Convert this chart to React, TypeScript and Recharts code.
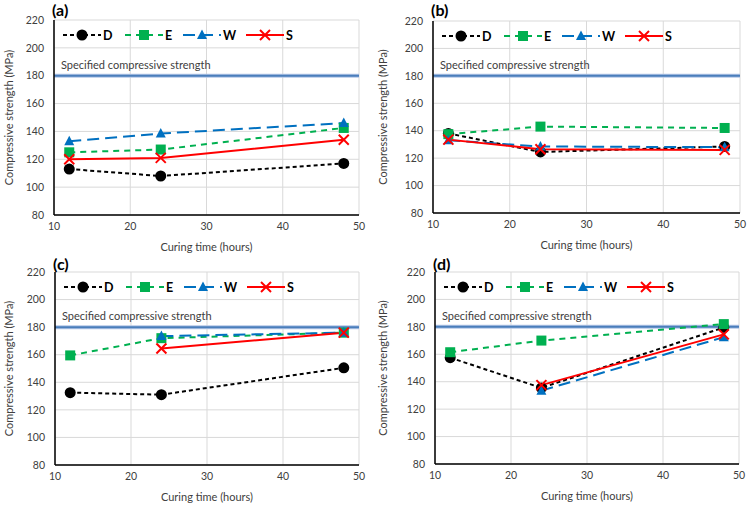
import { LineChart, Line, XAxis, YAxis, CartesianGrid, ReferenceLine, Legend } from "recharts"

// Curing times where specimens were tested
const curingHours = [12, 24, 48]
const xTicks = [10, 20, 30, 40, 50]
const yTicks = [80, 100, 120, 140, 160, 180, 200, 220]
const specifiedStrength = 180
const seriesNames = ["D", "E", "W", "S"]

// (a)
const dA = [113, 108, 117]
const eA = [125, 127, 142.5]
const wA = [133, 138.5, 146]
const sA = [120, 121, 134]
// (b)
const dB = [138, 124.5, 128.5]
const eB = [137.5, 143, 142]
const wB = [133, 128.5, 128]
const sB = [133.5, 126.5, 126]
// (c)
const dC = [132.5, 131, 150.5]
const eC = [159.5, 172, 176]
const wC = [null, 173.5, 176]
const sC = [null, 164.5, 176]
// (d)
const dD = [157.5, 135.5, 179.5]
const eD = [161.5, 170, 182]
const wD = [null, 133.5, 172.5]
const sD = [null, 137.5, 174.5]

const FONT = "Lato, sans-serif"

const STYLES: Record<string, { color: string; dash?: string }> = {
  D: { color: "#000000", dash: "4 3" },
  E: { color: "#00b050", dash: "6 5" },
  W: { color: "#0070c0", dash: "12 6" },
  S: { color: "#ff0000" },
}

function Marker({ name, cx, cy }: { name: string; cx: number; cy: number }) {
  const c = STYLES[name].color
  if (name === "D") return <circle cx={cx} cy={cy} r={5.5} fill={c} />
  if (name === "E") return <rect x={cx - 5} y={cy - 5} width={10} height={10} fill={c} />
  if (name === "W")
    return <polygon points={`${cx},${cy - 5.5} ${cx + 5},${cy + 4} ${cx - 5},${cy + 4}`} fill={c} />
  return (
    <g stroke={c} strokeWidth={2}>
      <line x1={cx - 5} y1={cy - 5} x2={cx + 5} y2={cy + 5} />
      <line x1={cx - 5} y1={cy + 5} x2={cx + 5} y2={cy - 5} />
    </g>
  )
}

const legendOffsets = [0, 62, 120, 183]

function LegendContent() {
  return (
    <svg width={250} height={16} style={{ display: "block" }}>
      {seriesNames.map((name, i) => {
        const x = legendOffsets[i]
        const s = STYLES[name]
        return (
          <g key={name}>
            <line x1={x} y1={8} x2={x + 38} y2={8} stroke={s.color} strokeWidth={2} strokeDasharray={s.dash} />
            <Marker name={name} cx={x + 19} cy={8} />
            <text x={x + 40} y={12.5} fontSize={12.5} fontWeight="bold" fontFamily={FONT} fill="#000">
              {name}
            </text>
          </g>
        )
      })}
    </svg>
  )
}

function buildRows(d: (number | null)[], e: (number | null)[], w: (number | null)[], s: (number | null)[]) {
  return curingHours.map((t, i) => ({ t, D: d[i], E: e[i], W: w[i], S: s[i] }))
}

interface PanelProps {
  tag: string
  rows: ReturnType<typeof buildRows>
  left: number
  top: number
  plotLeft: number
  plotTop: number
  plotRight: number
  plotBottom: number
}

function Panel({ tag, rows, left, top, plotLeft, plotTop, plotRight, plotBottom }: PanelProps) {
  const W = 374
  const H = 254
  const xAxisHeight = H - plotBottom
  const frame = { stroke: "#000", strokeWidth: 1.5 }
  return (
    <div style={{ position: "absolute", left, top, width: W, height: H }}>
      <div
        style={{
          position: "absolute",
          left: plotLeft - 2,
          top: 0,
          fontFamily: FONT,
          fontWeight: "bold",
          fontSize: 16,
          lineHeight: "20px",
          zIndex: 2,
        }}
      >
        {tag}
      </div>
      <LineChart
        width={W}
        height={H}
        data={rows}
        margin={{ top: plotTop, right: W - plotRight, bottom: 0, left: 0 }}
      >
        <CartesianGrid stroke="#d9d9d9" strokeWidth={1} />
        <XAxis
          dataKey="t"
          type="number"
          domain={[10, 50]}
          ticks={xTicks}
          height={xAxisHeight}
          axisLine={frame}
          tickLine={false}
          tickSize={0}
          tickMargin={8}
          tick={{ fontSize: 10.5, fill: "#404040", fontFamily: FONT }}
          label={{
            value: "Curing time (hours)",
            position: "insideBottom",
            offset: xAxisHeight - 36,
            fontSize: 11,
            fill: "#404040",
            fontFamily: FONT,
          }}
        />
        <XAxis xAxisId="frameTop" orientation="top" height={0} tick={false} tickLine={false} axisLine={frame} />
        <YAxis
          type="number"
          domain={[80, 220]}
          ticks={yTicks}
          width={plotLeft}
          axisLine={frame}
          tickLine={false}
          tickSize={0}
          tickMargin={10}
          tick={{ fontSize: 10.5, fill: "#404040", fontFamily: FONT }}
          label={{
            value: "Compressive strength (MPa)",
            angle: -90,
            position: "center",
            dx: 9 - plotLeft / 2,
            fontSize: 11,
            fill: "#404040",
            fontFamily: FONT,
          }}
        />
        <YAxis yAxisId="frameRight" orientation="right" width={0} tick={false} tickLine={false} axisLine={frame} />
        <ReferenceLine y={specifiedStrength} stroke="#b4c7e7" strokeWidth={4} />
        <ReferenceLine
          y={specifiedStrength}
          stroke="#4a7ebb"
          strokeWidth={2}
          label={{
            value: "Specified compressive strength",
            position: "insideBottomLeft",
            offset: 7,
            fontSize: 11,
            fill: "#404040",
            fontFamily: FONT,
          }}
        />
        <Legend
          content={<LegendContent />}
          layout="horizontal"
          align="center"
          verticalAlign="middle"
          width={250}
          height={16}
          wrapperStyle={{ top: plotTop + 7, left: plotLeft + 9 }}
        />
        {seriesNames.map((name) => (
          <Line
            key={name}
            dataKey={name}
            stroke={STYLES[name].color}
            strokeWidth={2}
            strokeDasharray={STYLES[name].dash}
            isAnimationActive={false}
            connectNulls={false}
            dot={(p: any) =>
              p.cy == null || p.value == null ? (
                <g key={`${name}-${p.index}`} />
              ) : (
                <g key={`${name}-${p.index}`}>
                  <Marker name={name} cx={p.cx} cy={p.cy} />
                </g>
              )
            }
            activeDot={false}
          />
        ))}
      </LineChart>
    </div>
  )
}

export default function App() {
  return (
    <div style={{ position: "absolute", left: 0, top: 0, width: 747, height: 508, background: "#fff" }}>
      <Panel tag="(a)" rows={buildRows(dA, eA, wA, sA)} left={0} top={0} plotLeft={54} plotTop={20} plotRight={359} plotBottom={215} />
      <Panel tag="(b)" rows={buildRows(dB, eB, wB, sB)} left={374} top={0} plotLeft={59} plotTop={21} plotRight={366} plotBottom={213} />
      <Panel tag="(c)" rows={buildRows(dC, eC, wC, sC)} left={0} top={254} plotLeft={55} plotTop={18} plotRight={359} plotBottom={211} />
      <Panel tag="(d)" rows={buildRows(dD, eD, wD, sD)} left={374} top={254} plotLeft={61} plotTop={18} plotRight={365} plotBottom={210} />
    </div>
  )
}
